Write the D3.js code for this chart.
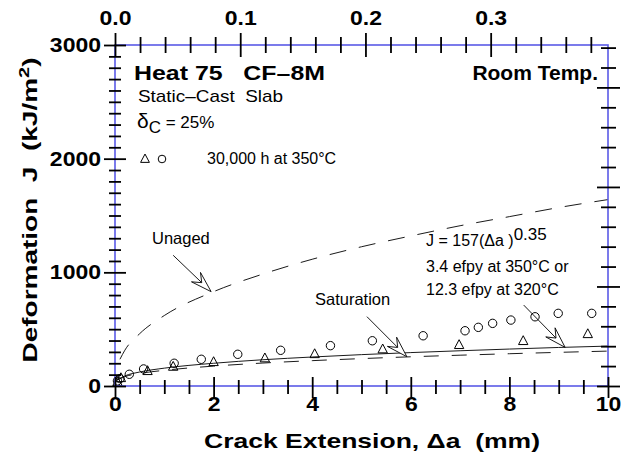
<!DOCTYPE html>
<html><head><meta charset="utf-8">
<script src="https://cdn.jsdelivr.net/npm/d3@7"></script>
<style>
html,body{margin:0;padding:0;background:#fff;}
svg text{font-family:"Liberation Sans",Arial,Helvetica,sans-serif;fill:#000;}
</style></head>
<body><svg id="c" width="623" height="460"></svg>
<script>
// ---- data ----
const xMajorTicks = [0, 2, 4, 6, 8, 10];
const yMajorTicks = [0, 1000, 2000, 3000];
const topMajorTicks = [0, 0.1, 0.2, 0.3];
const rightMajorTicks = [0, 5000, 10000, 15000];

const unagedDa = [0.1, 0.2, 0.5, 1, 2, 3, 4, 5, 6, 7, 8, 9, 10];
const unagedJ  = [235, 315, 460, 620, 830, 985, 1115, 1225, 1320, 1410, 1490, 1570, 1640];

const satDa = [0.05, 0.2, 0.5, 1, 2, 3, 4, 5, 6, 7, 8, 9, 10];
const satJ  = [55, 89, 123, 157, 200, 231, 255, 276, 294, 310, 325, 339, 351];

const lowDa = [0.05, 0.2, 0.5, 1, 2, 3, 4, 5, 6, 7, 8, 9, 10];
const lowJ  = [52, 82, 110, 138, 175, 202, 223, 241, 257, 271, 284, 296, 307];

const circleDa = [0.05, 0.1, 0.29, 0.58, 1.20, 1.75, 2.49, 3.36, 4.37, 5.22, 6.25, 7.10, 7.37, 7.66, 8.03, 8.52, 8.99, 9.67];
const circleJ  = [45, 65, 103, 150, 200, 235, 279, 314, 355, 398, 442, 486, 516, 551, 580, 609, 639, 639];

const triDa = [0.05, 0.12, 0.66, 1.18, 2.0, 3.04, 4.05, 5.43, 6.98, 8.28, 9.59];
const triJ  = [35, 70, 132, 170, 211, 244, 281, 323, 361, 396, 457];

// arrows: [startDa, startJ, tipDa, tipJ]
const arrowUnaged = [1.18, 1150, 1.95, 830];
const arrowSat    = [5.11, 610, 5.92, 258];
const arrowFit    = [8.29, 712, 9.13, 340];

// ---- layout ----
const W = 623, H = 460;
const m = {left: 115, right: 15, top: 45, bottom: 74};
const svg = d3.select("#c");
const AX = "#5a5ae6";
const TS = 1.15; // horizontal stretch of bold tick labels

const x = d3.scaleLinear().domain([0, 10]).range([m.left, W - m.right]);
const y = d3.scaleLinear().domain([0, 3000]).range([H - m.bottom, m.top]);
const xTop = d3.scaleLinear().domain([0, 10 / 25.4]).range([m.left, W - m.right]);
const yRight = d3.scaleLinear().domain([0, 3000 * 5.7101]).range([H - m.bottom, m.top]);

const x0 = x(0), x1 = x(10), y0 = y(0), y1 = y(3000);

// ---- curves ----
const line = d3.line().x(d => x(d[0])).y(d => y(d[1])).curve(d3.curveMonotoneX);
const g = svg.append("g");
g.append("path").datum(d3.zip(unagedDa, unagedJ)).attr("d", line)
  .attr("fill", "none").attr("stroke", "#000").attr("stroke-width", 0.9).attr("stroke-dasharray", "17,13");
g.append("path").datum(d3.zip(satDa, satJ)).attr("d", line)
  .attr("fill", "none").attr("stroke", "#000").attr("stroke-width", 0.9);
g.append("path").datum(d3.zip(lowDa, lowJ)).attr("d", line)
  .attr("fill", "none").attr("stroke", "#000").attr("stroke-width", 0.9).attr("stroke-dasharray", "15,13");

// ---- markers ----
function triPath(cx, cy, s) {
  return `M${cx},${cy - s * 0.62}L${cx + s * 0.55},${cy + s * 0.42}L${cx - s * 0.55},${cy + s * 0.42}Z`;
}
g.selectAll("circle.pt").data(d3.zip(circleDa, circleJ)).join("circle")
  .attr("class", "pt").attr("cx", d => x(d[0])).attr("cy", d => y(d[1])).attr("r", 4.2)
  .attr("fill", "none").attr("stroke", "#000").attr("stroke-width", 1);
g.selectAll("path.tri").data(d3.zip(triDa, triJ)).join("path")
  .attr("class", "tri").attr("d", d => triPath(x(d[0]), y(d[1]), 8.5))
  .attr("fill", "none").attr("stroke", "#000").attr("stroke-width", 1);

// ---- arrows ----
function arrow(a) {
  const sx = x(a[0]), sy = y(a[1]), tx = x(a[2]), ty = y(a[3]);
  const dx = tx - sx, dy = ty - sy, L = Math.hypot(dx, dy);
  const ux = dx / L, uy = dy / L, nx = -uy, ny = ux;
  const HL = 21, HW = 6.5, NL = 13;
  const bx = tx - HL * ux, by = ty - HL * uy;
  const nX = tx - NL * ux, nY = ty - NL * uy;
  g.append("line").attr("x1", sx).attr("y1", sy).attr("x2", nX).attr("y2", nY)
    .attr("stroke", "#000").attr("stroke-width", 0.9);
  g.append("path")
    .attr("d", `M${nX},${nY}L${bx + HW * nx},${by + HW * ny}L${tx},${ty}L${bx - HW * nx},${by - HW * ny}Z`)
    .attr("fill", "#fff").attr("stroke", "#000").attr("stroke-width", 0.9).attr("stroke-linejoin", "miter");
}
arrow(arrowUnaged); arrow(arrowSat); arrow(arrowFit);

// ---- axes ----
function range(a, b, s) { const r = []; for (let v = a; v <= b + 1e-9; v += s) r.push(+v.toFixed(4)); return r; }
function styleTicks(sel, a1, a2, attr1, attr2, w) {
  sel.selectAll(".tick line").attr(attr1, a1).attr(attr2, a2).attr("stroke", "#000").attr("stroke-width", w);
  sel.select(".domain").remove();
}
const axG = svg.append("g");
axG.append("rect").attr("x", x0).attr("y", y1).attr("width", x1 - x0).attr("height", y0 - y1)
  .attr("fill", "none").attr("stroke", AX).attr("stroke-width", 1.6);

// bottom
const bMinor = axG.append("g").attr("transform", `translate(0,${y0})`)
  .call(d3.axisBottom(x).tickValues(range(0.5, 9.5, 0.5).filter(v => v % 2 !== 0)).tickFormat("").tickSize(0));
styleTicks(bMinor, -6, 8, "y1", "y2", 1.8);
const bMaj = axG.append("g").attr("transform", `translate(0,${y0})`)
  .call(d3.axisBottom(x).tickValues(xMajorTicks).tickFormat(d3.format("d")).tickSize(0).tickPadding(21));
styleTicks(bMaj, -9, 12, "y1", "y2", 1.8);
bMaj.selectAll("text").attr("font-size", 20).attr("font-weight", "bold").attr("dy", "0.2em")
  .attr("transform", `scale(${TS},1)`);

// left
const lMinor = axG.append("g").attr("transform", `translate(${x0},0)`)
  .call(d3.axisLeft(y).tickValues(range(100, 2900, 100).filter(v => v % 1000 !== 0)).tickFormat("").tickSize(0));
styleTicks(lMinor, -6, 6, "x1", "x2", 1.8);
const lMaj = axG.append("g").attr("transform", `translate(${x0},0)`)
  .call(d3.axisLeft(y).tickValues(yMajorTicks).tickFormat(d3.format("d")).tickSize(0));
styleTicks(lMaj, -11, 11, "x1", "x2", 1.8);
lMaj.selectAll("text").attr("font-size", 20).attr("font-weight", "bold")
  .attr("x", -14 / TS).attr("transform", `scale(${TS},1)`);

// top (inches)
const tMinor = axG.append("g").attr("transform", `translate(0,${y1})`)
  .call(d3.axisTop(xTop).tickValues(range(0.02, 0.38, 0.02).filter(v => Math.abs(v * 10 - Math.round(v * 10)) > 1e-6)).tickFormat("").tickSize(0));
styleTicks(tMinor, -8, 8, "y1", "y2", 1.8);
const tMaj = axG.append("g").attr("transform", `translate(0,${y1})`)
  .call(d3.axisTop(xTop).tickValues(topMajorTicks).tickFormat(d3.format(".1f")).tickSize(0).tickPadding(20));
styleTicks(tMaj, -12, 12, "y1", "y2", 1.8);
tMaj.selectAll("text").attr("font-size", 20).attr("font-weight", "bold").attr("transform", `scale(${TS},1)`);

// right (in-lb/in^2)
const rMinor = axG.append("g").attr("transform", `translate(${x1},0)`)
  .call(d3.axisRight(yRight).tickValues(range(1000, 17000, 1000).filter(v => v % 5000 !== 0)).tickFormat("").tickSize(0));
styleTicks(rMinor, -7, 8, "x1", "x2", 1.8);
const rMaj = axG.append("g").attr("transform", `translate(${x1},0)`)
  .call(d3.axisRight(yRight).tickValues(rightMajorTicks).tickFormat("").tickSize(0));
styleTicks(rMaj, -11, 12, "x1", "x2", 1.8);

// ---- axis titles ----
svg.append("text").attr("x", 372).attr("y", 448).attr("text-anchor", "middle")
  .attr("font-size", 21).attr("font-weight", "bold").style("white-space", "pre")
  .attr("textLength", 336).attr("lengthAdjust", "spacingAndGlyphs")
  .text("Crack Extension, \u0394a  (mm)");
const yt = svg.append("text").attr("transform", `translate(37,210) rotate(-90)`)
  .attr("text-anchor", "middle").attr("font-size", 21).attr("font-weight", "bold").style("white-space", "pre")
  .attr("textLength", 305).attr("lengthAdjust", "spacingAndGlyphs");
yt.append("tspan").text("Deformation  J  (kJ/m");
yt.append("tspan").attr("font-size", 15).attr("dy", -8).text("2");
yt.append("tspan").attr("dy", 8).text(")");

// ---- annotations ----
function txt(px, py, s, size, weight, anchor) {
  return svg.append("text").attr("x", px).attr("y", py).attr("font-size", size)
    .attr("font-weight", weight || "normal").attr("text-anchor", anchor || "start")
    .style("white-space", "pre").text(s);
}
txt(134, 80, "Heat 75   CF\u20138M", 21, "bold").attr("textLength", 191).attr("lengthAdjust", "spacingAndGlyphs");
txt(598, 80, "Room Temp.", 21, "bold", "end");
txt(138, 102, "Static\u2013Cast  Slab", 17).attr("textLength", 145).attr("lengthAdjust", "spacingAndGlyphs");
const dl = svg.append("text").attr("x", 137).attr("y", 128).style("white-space", "pre");
dl.append("tspan").attr("font-size", 21).text("\u03b4");
dl.append("tspan").attr("font-size", 17).attr("dy", 5).text("C");
dl.append("tspan").attr("font-size", 17).attr("dy", -5).text(" = 25%");
svg.append("path").attr("d", triPath(145, 159, 8)).attr("fill", "none").attr("stroke", "#000").attr("stroke-width", 1);
svg.append("circle").attr("cx", 162).attr("cy", 159).attr("r", 3.8).attr("fill", "none").attr("stroke", "#000").attr("stroke-width", 1);
txt(207, 164, "30,000 h at 350\u00b0C", 16);
txt(152, 244, "Unaged", 16.5);
txt(315, 305, "Saturation", 16.5);
const fj = svg.append("text").attr("x", 426).attr("y", 246).attr("font-size", 16).style("white-space", "pre");
fj.append("tspan").text("J = 157(\u0394a )");
fj.append("tspan").attr("dy", -6).attr("font-size", 17).text("0.35");
txt(426, 272, "3.4 efpy at 350\u00b0C or", 16);
txt(426, 295, "12.3 efpy at 320\u00b0C", 16);
</script></body></html>
